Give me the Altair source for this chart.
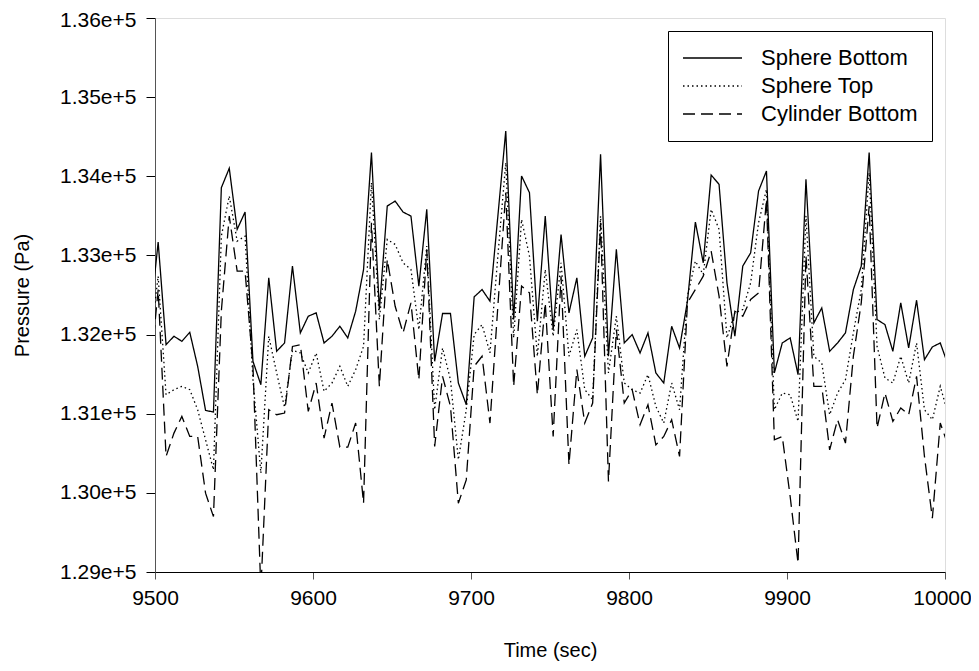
import altair as alt
import pandas as pd

# sampling times (s), every 5 s, first/last just outside the axis range
time = list(range(9497, 10003, 5))

sphere_bottom = [
    132210, 133169, 131873, 131979, 131915, 132029, 131599, 131042, 131021, 133856,
    134101, 133329, 133548, 131662, 131367, 132717, 131789, 131894, 132865, 132021,
    132232, 132274, 131894, 131979, 132105, 131958, 132295, 132822, 134299, 132316,
    133624, 133687, 133548, 133497, 132612, 133582, 131662, 132266, 132266, 131388,
    131114, 132476, 132569, 132422, 133497, 134573, 132190, 134004, 133793, 132169,
    133497, 132063, 133265, 132274, 132717, 131726, 131958, 134278, 131726, 133076,
    131894, 132000, 131768, 132021, 131515, 131388, 132105, 131831, 132422, 133422,
    132907, 134016, 133898, 132654, 131979, 132865, 133033, 133814, 134067, 131515,
    131894, 131958, 131493, 133962, 132147, 132337, 131789, 131894, 132021, 132569,
    132865, 134299, 132190, 132126, 131789, 132401, 131831, 132434, 131683, 131844,
    131894, 131614,
]

sphere_top = [
    131895, 132738, 131240, 131304, 131346, 131304, 131050, 130671, 130291, 133244,
    133751, 133181, 133244, 131430, 130249, 131979, 131515, 131080, 131800, 131768,
    131515, 131768, 131283, 131388, 131599, 131346, 131557, 131852, 133919, 132190,
    133202, 133139, 132907, 132822, 132063, 133118, 131050, 131831, 131430, 130418,
    131050, 132000, 132126, 131768, 132991, 134173, 131958, 133455, 132991, 131726,
    132822, 131979, 132907, 131726, 132063, 131304, 131177, 133497, 131515, 132232,
    131388, 131304, 131261, 131493, 131093, 130882, 131388, 131050, 132485, 132928,
    132759, 133582, 133329, 131958, 132274, 132316, 132654, 133413, 133835, 131050,
    131261, 131240, 130903, 133500, 131726, 131641, 130987, 131261, 131430, 132021,
    132569, 134046, 131852, 131451, 131388, 131726, 131388, 131894, 131050, 130924,
    131346, 130994,
]

cylinder_bottom = [
    131515, 132569, 130460, 130755, 130966, 130713, 130713, 129996, 129700, 132300,
    133497, 132801, 132801, 131599, 128770, 131050, 130987, 131008, 131850, 131873,
    131029, 131388, 130692, 131135, 130578, 130578, 130882, 129869, 133413, 131346,
    132949, 132358, 132021, 132401, 131430, 133076, 130586, 131472, 131093, 129869,
    130164, 131599, 131726, 130882, 132358, 133793, 131346, 132612, 132527, 131240,
    132401, 130713, 132738, 130354, 131557, 130882, 131135, 133413, 130143, 132063,
    131135, 131304, 130861, 131114, 130607, 130713, 130924, 130460, 132401, 132569,
    132738, 133055, 132485, 131599, 132295, 132232, 132443, 132527, 133708, 130671,
    130713, 129954, 129110, 133000, 131346, 131346, 130544, 130924, 130629, 131726,
    132401, 133624, 130818, 131261, 130903, 131072, 130987, 131472, 130460, 129679,
    130882, 130600,
]

series_names = ["Sphere Bottom", "Sphere Top", "Cylinder Bottom"]
x_ticks = [9500, 9600, 9700, 9800, 9900, 10000]
y_ticks = [129000, 130000, 131000, 132000, 133000, 134000, 135000, 136000]

rows = []
for name, vals in zip(series_names, [sphere_bottom, sphere_top, cylinder_bottom]):
    for t, v in zip(time, vals):
        rows.append({"time": t, "pressure": v, "series": name})
df = pd.DataFrame(rows)

FONT = "Liberation Sans"

chart = (
    alt.Chart(df)
    .mark_line(clip=True, color="black", strokeWidth=1.3)
    .encode(
        x=alt.X(
            "time:Q",
            scale=alt.Scale(domain=[9500, 10000], nice=False, zero=False),
            axis=alt.Axis(
                title="Time (sec)",
                values=x_ticks,
                format="d",
                grid=False,
                domainColor="black",
                tickColor="#555555",
                tickSize=7,
                labelPadding=8,
                labelOffset={"condition": {"test": "datum.value == 10000", "value": -3}, "value": 0},
                labelFlush=False,
                labelOverlap=False,
                labelFontSize=21,
                labelFont=FONT,
                labelColor="black",
                titleFontSize=20,
                titleFont=FONT,
                titleFontWeight="normal",
                titleColor="black",
                titleX=395,
                titleY=78,
                titleBaseline="middle",
            ),
        ),
        y=alt.Y(
            "pressure:Q",
            scale=alt.Scale(domain=[129000, 136000], nice=False, zero=False),
            axis=alt.Axis(
                title="Pressure (Pa)",
                values=y_ticks,
                format=".2e",
                grid=False,
                domainColor="#555555",
                tickColor="black",
                tickSize=9,
                labelPadding=10,
                labelOffset={"condition": {"test": "datum.value == 136000", "value": 2}, "value": 0},
                labelFlush=False,
                labelOverlap=False,
                labelFontSize=21,
                labelFont=FONT,
                labelColor="black",
                titleFontSize=20,
                titleFont=FONT,
                titleFontWeight="normal",
                titleColor="black",
                titleX=-133,
                titleY=277,
                titleBaseline="middle",
            ),
        ),
        strokeDash=alt.StrokeDash(
            "series:N",
            scale=alt.Scale(domain=series_names, range=[[1, 0], [1.5, 3], [12, 6]]),
            legend=alt.Legend(
                title=None,
                orient="none",
                legendX=513,
                legendY=13,
                strokeColor="black",
                fillColor="white",
                padding=14,
                symbolType="stroke",
                symbolSize=3481,
                symbolStrokeWidth=1.3,
                symbolStrokeColor="black",
                labelFontSize=22,
                labelFont=FONT,
                labelColor="black",
                labelOffset=18,
                clipHeight=26,
                rowPadding=2,
            ),
        ),
    )
    .properties(
        width=790,
        height=554,
        autosize=alt.AutoSizeParams(type="none"),
        padding={"left": 147, "top": 10, "right": 26, "bottom": 91},
    )
    .configure_view(stroke="black", strokeWidth=1)
    .configure(background="white", font=FONT)
)

chart.save("out.html", embed_options={"renderer": "svg", "actions": False})
